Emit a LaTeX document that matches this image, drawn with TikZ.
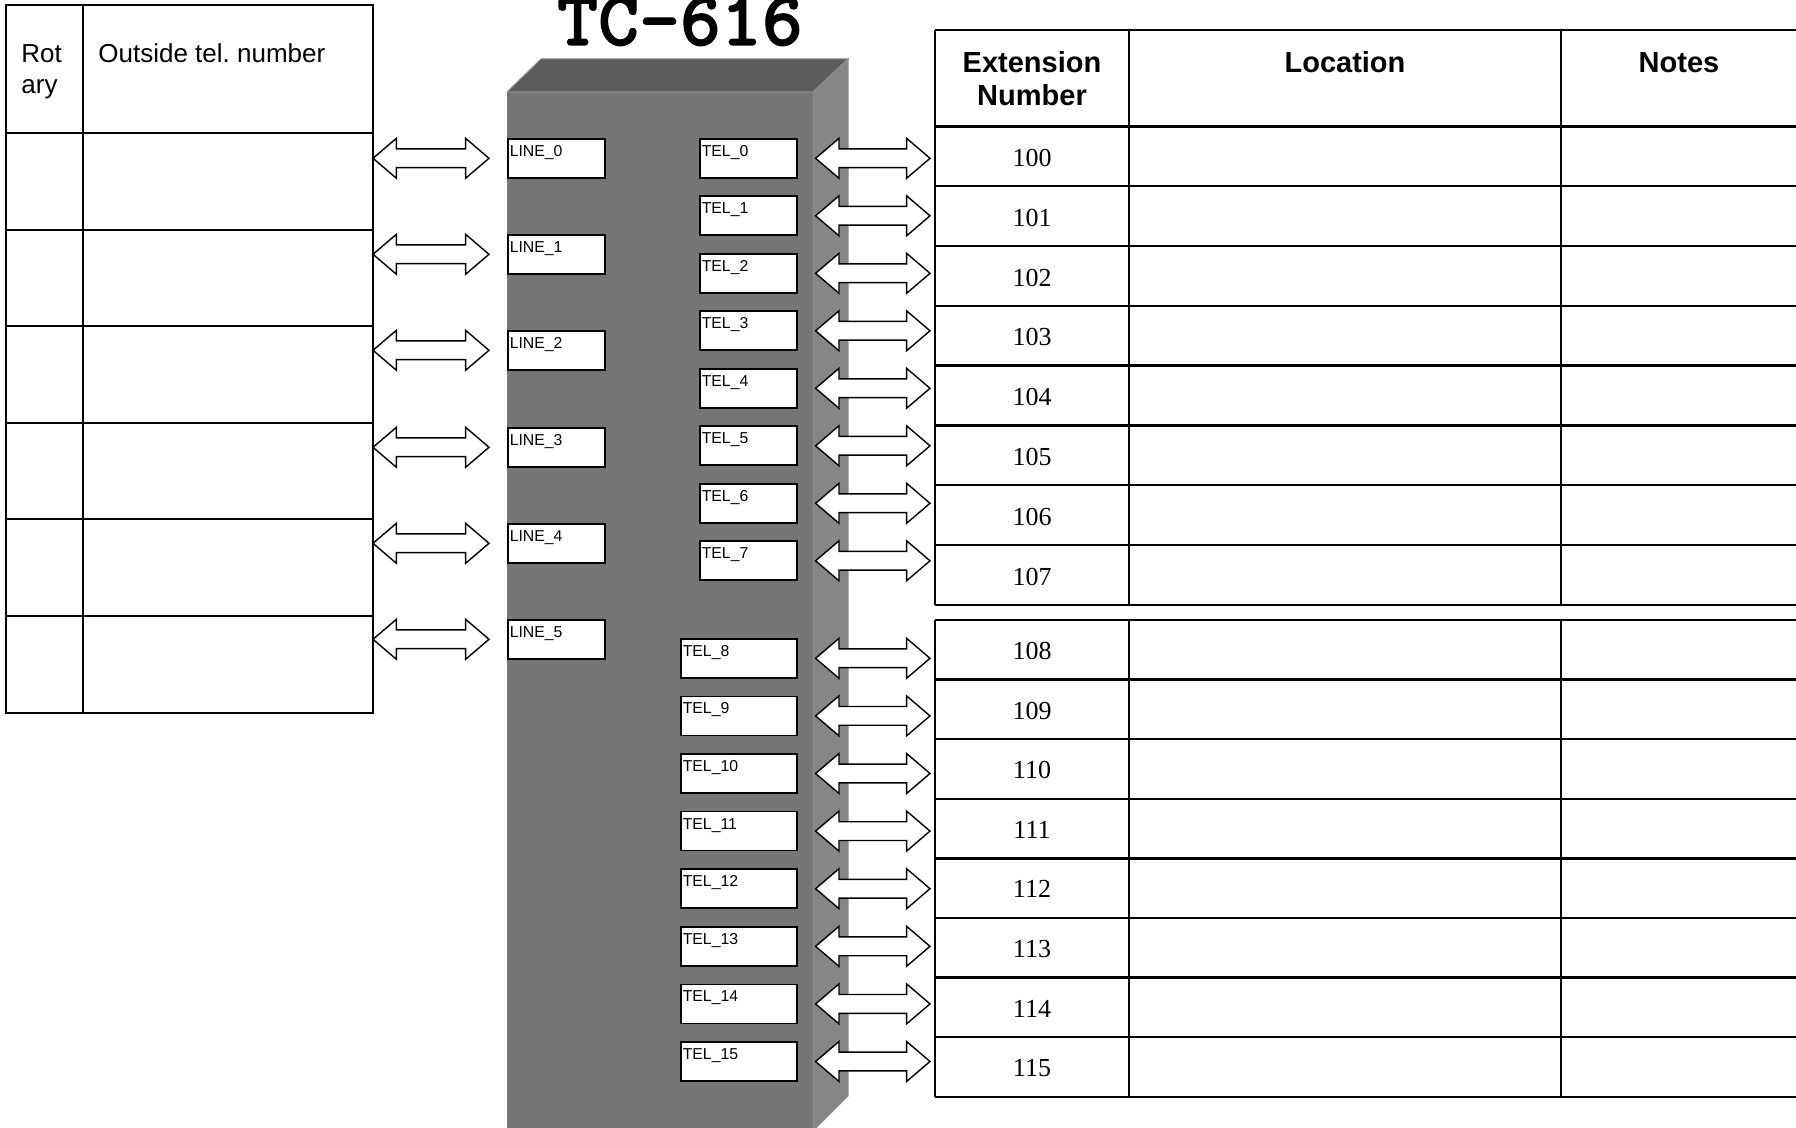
\documentclass[tikz,border=0pt]{standalone}
\usepackage{fontspec}
\setmainfont{Liberation Sans}
\newfontfamily\numfont{Liberation Serif}
\newfontfamily\titlefont[FakeBold=1.5]{lmmonolt10-bold.otf}
\usepackage{xcolor}
\usepackage{tikz}
\usetikzlibrary{calc}

\definecolor{frontgray}{HTML}{767676}
\definecolor{topgray}{HTML}{5C5C5C}
\definecolor{sidegray}{HTML}{868686}
\definecolor{edgegray}{HTML}{8E8E8E}

\tikzset{
  port/.style={draw, fill=white, line width=0.8pt, anchor=north west,
    inner xsep=1pt, inner ysep=0pt, text width=46.5pt, align=left,
    text height=8.75pt, text depth=10.75pt, font=\fontsize{7.9pt}{9pt}\selectfont},
  wideport/.style={port, text width=56pt},
  dblarrow/.style={draw, fill=white, line width=0.7pt,
    to path={let \p1=(\tikztostart), \p2=(\tikztotarget) in
      -- (\x1+11.7pt,\y1+10pt) -- (\x1+11.7pt,\y1+4.7pt) -- (\x2-11.7pt,\y1+4.7pt)
      -- (\x2-11.7pt,\y1+10pt) -- (\x2,\y1) -- (\x2-11.7pt,\y1-10pt)
      -- (\x2-11.7pt,\y1-4.7pt) -- (\x1+11.7pt,\y1-4.7pt) -- (\x1+11.7pt,\y1-10pt) -- cycle}},
  ext/.style={font=\numfont\fontsize{13pt}{15pt}\selectfont, inner sep=0pt},
  head/.style={font=\bfseries\fontsize{14.5pt}{17pt}\selectfont, anchor=base, inner sep=0pt},
  lhead/.style={font=\fontsize{13pt}{15pt}\selectfont, anchor=base west, inner sep=0pt}
}

\begin{document}
\begin{tikzpicture}[x=0.5pt, y=-0.5pt]

        \fill[white] (0,0) rectangle (1796,1128);
        \useasboundingbox (0,0) rectangle (1796,1128);
        \clip (0,0) rectangle (1796,1128);

        % the exchange box
        \fill[frontgray] (507,92) rectangle (813,1140);
        \filldraw[fill=topgray, draw=edgegray, line width=0.5pt] (507,92) -- (541,59) -- (848,59) -- (813,92) -- cycle;
        \filldraw[fill=sidegray, draw=edgegray, line width=0.5pt] (813,92) -- (848,59) -- (848,1096) -- (813,1131) -- cycle;

        \node[font=\titlefont\fontsize{39pt}{43pt}\selectfont, anchor=base, inner sep=0pt] (title) at (680,45) {TC-616};

        % outside lines table
        \draw[line width=1pt] (6,5) rectangle (373,712.6);
        \draw[line width=1pt] (83,5) -- (83,712.6);
        \draw[line width=1pt] (6,133) -- (373,133) (6,229.6) -- (373,229.6) (6,326.2) -- (373,326.2)
            (6,422.8) -- (373,422.8) (6,519.4) -- (373,519.4) (6,616) -- (373,616);
        \node[lhead] (hrot) at (21,63) {Rot};
        \node[lhead] (hary) at (21,94) {ary};
        \node[lhead] (hout) at (98,63) {Outside tel.\ number};
        \coordinate (ltab) at (373,5);

        % extension table
        \draw[line width=1.2pt] (935,30) -- (1800,30) (935,126.5) -- (1800,126.5) (935,186.3) -- (1800,186.3)
            (935,246.1) -- (1800,246.1) (935,305.9) -- (1800,305.9) (935,365.7) -- (1800,365.7)
            (935,425.5) -- (1800,425.5) (935,485.3) -- (1800,485.3) (935,545.1) -- (1800,545.1)
            (935,604.9) -- (1800,604.9);
        \draw[line width=1.2pt] (935,620) -- (1800,620) (935,679.6) -- (1800,679.6) (935,739.2) -- (1800,739.2)
            (935,798.8) -- (1800,798.8) (935,858.4) -- (1800,858.4) (935,918) -- (1800,918)
            (935,977.6) -- (1800,977.6) (935,1037.2) -- (1800,1037.2) (935,1096.8) -- (1800,1096.8);
        \draw[line width=1.2pt] (935,30) -- (935,604.9) (1129,30) -- (1129,604.9) (1561,30) -- (1561,604.9);
        \draw[line width=1.2pt] (935,620) -- (935,1096.8) (1129,620) -- (1129,1096.8) (1561,620) -- (1561,1096.8);
        \node[head] (hext) at (1032,72.7) {Extension};
        \node[head] (hnum) at (1032,106) {Number};
        \node[head] (hloc) at (1345,72.7) {Location};
        \node[head] (hnote) at (1679,72.7) {Notes};
        \coordinate (rtab) at (930,30);

        \node[ext] (e100) at (1032,158) {100};
        \node[ext] (e101) at (1032,218) {101};
        \node[ext] (e102) at (1032,277.5) {102};
        \node[ext] (e103) at (1032,337) {103};
        \node[ext] (e104) at (1032,397) {104};
        \node[ext] (e105) at (1032,457) {105};
        \node[ext] (e106) at (1032,517) {106};
        \node[ext] (e107) at (1032,576.5) {107};
        \node[ext] (e108) at (1032,651) {108};
        \node[ext] (e109) at (1032,710.5) {109};
        \node[ext] (e110) at (1032,770) {110};
        \node[ext] (e111) at (1032,829.5) {111};
        \node[ext] (e112) at (1032,889) {112};
        \node[ext] (e113) at (1032,949) {113};
        \node[ext] (e114) at (1032,1008.5) {114};
        \node[ext] (e115) at (1032,1068) {115};

        % ports
        \node[port] (line0) at (507,138) {LINE\_0};
        \node[port] (line1) at (507,234) {LINE\_1};
        \node[port] (line2) at (507,330) {LINE\_2};
        \node[port] (line3) at (507,427) {LINE\_3};
        \node[port] (line4) at (507,523) {LINE\_4};
        \node[port] (line5) at (507,619) {LINE\_5};

        \node[port] (tel0) at (699,138) {TEL\_0};
        \node[port] (tel1) at (699,195.5) {TEL\_1};
        \node[port] (tel2) at (699,253) {TEL\_2};
        \node[port] (tel3) at (699,310.5) {TEL\_3};
        \node[port] (tel4) at (699,368) {TEL\_4};
        \node[port] (tel5) at (699,425.5) {TEL\_5};
        \node[port] (tel6) at (699,483) {TEL\_6};
        \node[port] (tel7) at (699,540.5) {TEL\_7};
        \node[wideport] (tel8) at (680,638) {TEL\_8};
        \node[wideport] (tel9) at (680,695.6) {TEL\_9};
        \node[wideport] (tel10) at (680,753.2) {TEL\_10};
        \node[wideport] (tel11) at (680,810.8) {TEL\_11};
        \node[wideport] (tel12) at (680,868.4) {TEL\_12};
        \node[wideport] (tel13) at (680,926) {TEL\_13};
        \node[wideport] (tel14) at (680,983.6) {TEL\_14};
        \node[wideport] (tel15) at (680,1041.2) {TEL\_15};

        % arrows
        \draw[dblarrow] (ltab |- line0.west) to ([xshift=-9pt]line0.west);
        \draw[dblarrow] (ltab |- line1.west) to ([xshift=-9pt]line1.west);
        \draw[dblarrow] (ltab |- line2.west) to ([xshift=-9pt]line2.west);
        \draw[dblarrow] (ltab |- line3.west) to ([xshift=-9pt]line3.west);
        \draw[dblarrow] (ltab |- line4.west) to ([xshift=-9pt]line4.west);
        \draw[dblarrow] (ltab |- line5.west) to ([xshift=-9pt]line5.west);

        \draw[dblarrow] ([xshift=9pt]tel0.east) to (rtab |- tel0.east);
        \draw[dblarrow] ([xshift=9pt]tel1.east) to (rtab |- tel1.east);
        \draw[dblarrow] ([xshift=9pt]tel2.east) to (rtab |- tel2.east);
        \draw[dblarrow] ([xshift=9pt]tel3.east) to (rtab |- tel3.east);
        \draw[dblarrow] ([xshift=9pt]tel4.east) to (rtab |- tel4.east);
        \draw[dblarrow] ([xshift=9pt]tel5.east) to (rtab |- tel5.east);
        \draw[dblarrow] ([xshift=9pt]tel6.east) to (rtab |- tel6.east);
        \draw[dblarrow] ([xshift=9pt]tel7.east) to (rtab |- tel7.east);
        \draw[dblarrow] ([xshift=9pt]tel8.east) to (rtab |- tel8.east);
        \draw[dblarrow] ([xshift=9pt]tel9.east) to (rtab |- tel9.east);
        \draw[dblarrow] ([xshift=9pt]tel10.east) to (rtab |- tel10.east);
        \draw[dblarrow] ([xshift=9pt]tel11.east) to (rtab |- tel11.east);
        \draw[dblarrow] ([xshift=9pt]tel12.east) to (rtab |- tel12.east);
        \draw[dblarrow] ([xshift=9pt]tel13.east) to (rtab |- tel13.east);
        \draw[dblarrow] ([xshift=9pt]tel14.east) to (rtab |- tel14.east);
        \draw[dblarrow] ([xshift=9pt]tel15.east) to (rtab |- tel15.east);
    \end{tikzpicture}
\end{document}
